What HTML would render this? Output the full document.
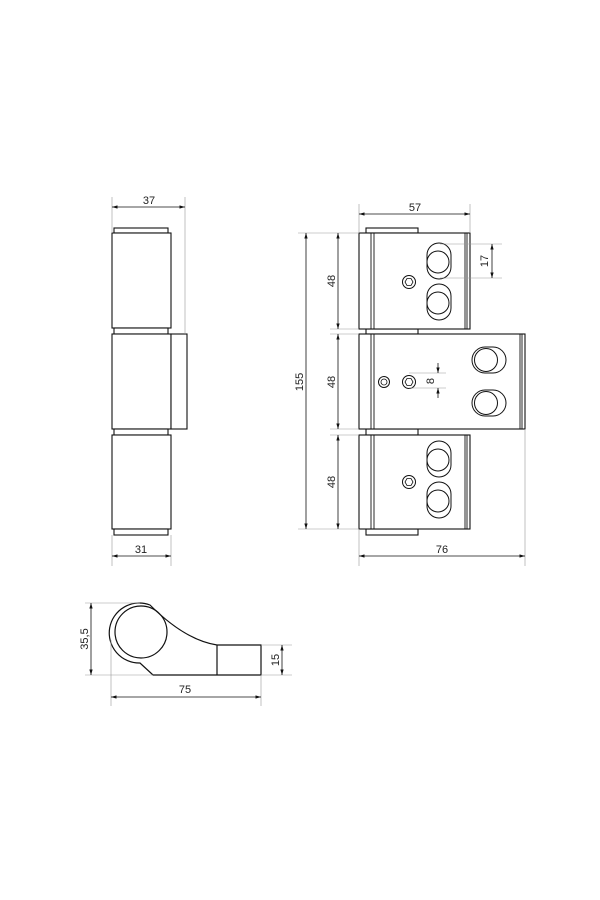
<!DOCTYPE html>
<html><head><meta charset="utf-8"><style>
html,body{margin:0;padding:0;background:#fff;width:600px;height:900px;overflow:hidden}
svg text{font-family:"Liberation Sans",sans-serif;font-size:11px;fill:#222}
</style></head><body>
<svg width="600" height="900" viewBox="0 0 600 900" xmlns="http://www.w3.org/2000/svg">
<defs>
<marker id="a" viewBox="0 0 10 10" refX="10" refY="5" markerWidth="7" markerHeight="7" orient="auto-start-reverse"><path d="M0,2 L10,5 L0,8 z" fill="#111"/></marker>
<g id="scr"><circle r="6.5" fill="none" stroke="#111" stroke-width="1"/><polygon points="4,0 2,3.5 -2,3.5 -4,0 -2,-3.5 2,-3.5" fill="none" stroke="#111" stroke-width="0.8"/></g>
<g id="vs"><rect x="-12" y="-18" width="24" height="36" rx="12" fill="none" stroke="#111" stroke-width="1"/><circle cx="-1" cy="1" r="11" fill="none" stroke="#111" stroke-width="1"/></g>
<g id="hs"><rect x="-17" y="-13" width="34" height="26" rx="13" fill="none" stroke="#111" stroke-width="1"/><circle cx="-3" cy="0" r="11.5" fill="none" stroke="#111" stroke-width="1"/></g>
</defs>
<g stroke="#111" stroke-width="1.1" fill="#fff">
<rect x="114" y="228" width="54" height="5"/><rect x="112" y="233" width="59" height="95"/>
<rect x="114" y="328" width="54" height="6"/><rect x="112" y="334" width="59" height="95"/>
<rect x="171" y="334" width="16" height="95"/>
<rect x="114" y="429" width="54" height="6"/><rect x="112" y="435" width="59" height="94"/>
<rect x="114" y="529" width="54" height="6"/>
<rect x="366" y="228" width="52" height="5"/><rect x="366" y="329" width="52" height="5"/>
<rect x="366" y="429" width="52" height="6"/><rect x="366" y="529" width="52" height="6"/>
<rect x="359" y="233" width="111" height="96"/>
<rect x="359" y="334" width="166" height="95"/>
<rect x="359" y="435" width="111" height="94"/>
</g>
<g stroke="#111" stroke-width="0.9">
<line x1="371" y1="233" x2="371" y2="329"/><line x1="374" y1="233" x2="374" y2="329"/>
<line x1="465" y1="233" x2="465" y2="329"/><line x1="467" y1="233" x2="467" y2="329"/>
<line x1="371" y1="334" x2="371" y2="429"/><line x1="374" y1="334" x2="374" y2="429"/>
<line x1="520" y1="334" x2="520" y2="429"/><line x1="522" y1="334" x2="522" y2="429"/>
<line x1="371" y1="435" x2="371" y2="529"/><line x1="374" y1="435" x2="374" y2="529"/>
<line x1="465" y1="435" x2="465" y2="529"/><line x1="467" y1="435" x2="467" y2="529"/>
</g>
<use href="#vs" x="439" y="261"/><use href="#vs" x="439" y="302"/>
<use href="#vs" x="439" y="459"/><use href="#vs" x="439" y="500"/>
<use href="#hs" x="489" y="360"/><use href="#hs" x="489" y="403"/>
<use href="#scr" x="409" y="282"/><use href="#scr" x="409" y="382"/><use href="#scr" x="409" y="482"/>
<circle cx="384" cy="382" r="5.5" fill="none" stroke="#111"/><circle cx="384" cy="382" r="3" fill="none" stroke="#111" stroke-width="0.8"/>
<g stroke="#111" stroke-width="1.2" fill="none">
<path d="M140,663 A30,30 0 1 1 150,605 Q185,640 217,645 L261,645 L261,675 L153,675 Z"/>
<circle cx="141" cy="632" r="26"/>
<line x1="217" y1="645" x2="217" y2="675"/>
</g>
<g stroke="#999" stroke-width="0.6" fill="none">
<line x1="112" y1="197" x2="112" y2="233"/><line x1="185" y1="197" x2="185" y2="334"/>
<line x1="112" y1="535" x2="112" y2="566"/><line x1="171" y1="535" x2="171" y2="566"/>
<line x1="359" y1="204" x2="359" y2="233"/><line x1="470" y1="204" x2="470" y2="233"/>
<line x1="298" y1="233" x2="359" y2="233"/><line x1="298" y1="529" x2="359" y2="529"/>
<line x1="330" y1="329" x2="359" y2="329"/><line x1="330" y1="334" x2="359" y2="334"/>
<line x1="330" y1="429" x2="359" y2="429"/><line x1="330" y1="435" x2="359" y2="435"/>
<line x1="359" y1="529" x2="359" y2="566"/><line x1="525" y1="429" x2="525" y2="566"/>
<line x1="440" y1="244" x2="502" y2="244"/><line x1="440" y1="278" x2="502" y2="278"/>
<line x1="409" y1="373" x2="446" y2="373"/><line x1="409" y1="388" x2="446" y2="388"/>
<line x1="85" y1="603" x2="140" y2="603"/><line x1="85" y1="675" x2="153" y2="675"/>
<line x1="261" y1="645" x2="292" y2="645"/><line x1="261" y1="675" x2="292" y2="675"/>
<line x1="111" y1="640" x2="111" y2="706"/><line x1="261" y1="675" x2="261" y2="706"/>
</g>
<g stroke="#111" stroke-width="0.8" fill="none" marker-start="url(#a)" marker-end="url(#a)">
<line x1="112" y1="207" x2="185" y2="207"/>
<line x1="112" y1="556" x2="171" y2="556"/>
<line x1="359" y1="214" x2="470" y2="214"/>
<line x1="359" y1="556" x2="525" y2="556"/>
<line x1="306" y1="233" x2="306" y2="529"/>
<line x1="338" y1="233" x2="338" y2="329"/>
<line x1="338" y1="334" x2="338" y2="429"/>
<line x1="338" y1="435" x2="338" y2="529"/>
<line x1="492" y1="244" x2="492" y2="278"/>
<line x1="91" y1="603" x2="91" y2="675"/>
<line x1="282" y1="645" x2="282" y2="675"/>
<line x1="111" y1="697" x2="261" y2="697"/>
</g>
<g stroke="#111" stroke-width="0.8" fill="none">
<line x1="438" y1="363" x2="438" y2="373" marker-end="url(#a)"/>
<line x1="438" y1="398" x2="438" y2="388" marker-end="url(#a)"/>
</g>
<text x="149" y="204" text-anchor="middle">37</text>
<text x="141" y="553" text-anchor="middle">31</text>
<text x="415" y="211" text-anchor="middle">57</text>
<text x="442" y="553" text-anchor="middle">76</text>
<text x="185" y="693" text-anchor="middle">75</text>
<text transform="translate(303,382) rotate(-90)" text-anchor="middle">155</text>
<text transform="translate(335,281) rotate(-90)" text-anchor="middle">48</text>
<text transform="translate(335,382) rotate(-90)" text-anchor="middle">48</text>
<text transform="translate(335,482) rotate(-90)" text-anchor="middle">48</text>
<text transform="translate(488,261) rotate(-90)" text-anchor="middle">17</text>
<text transform="translate(434,381) rotate(-90)" text-anchor="middle">8</text>
<text transform="translate(88,639) rotate(-90)" text-anchor="middle">35,5</text>
<text transform="translate(279,660) rotate(-90)" text-anchor="middle">15</text>
</svg>
</body></html>
